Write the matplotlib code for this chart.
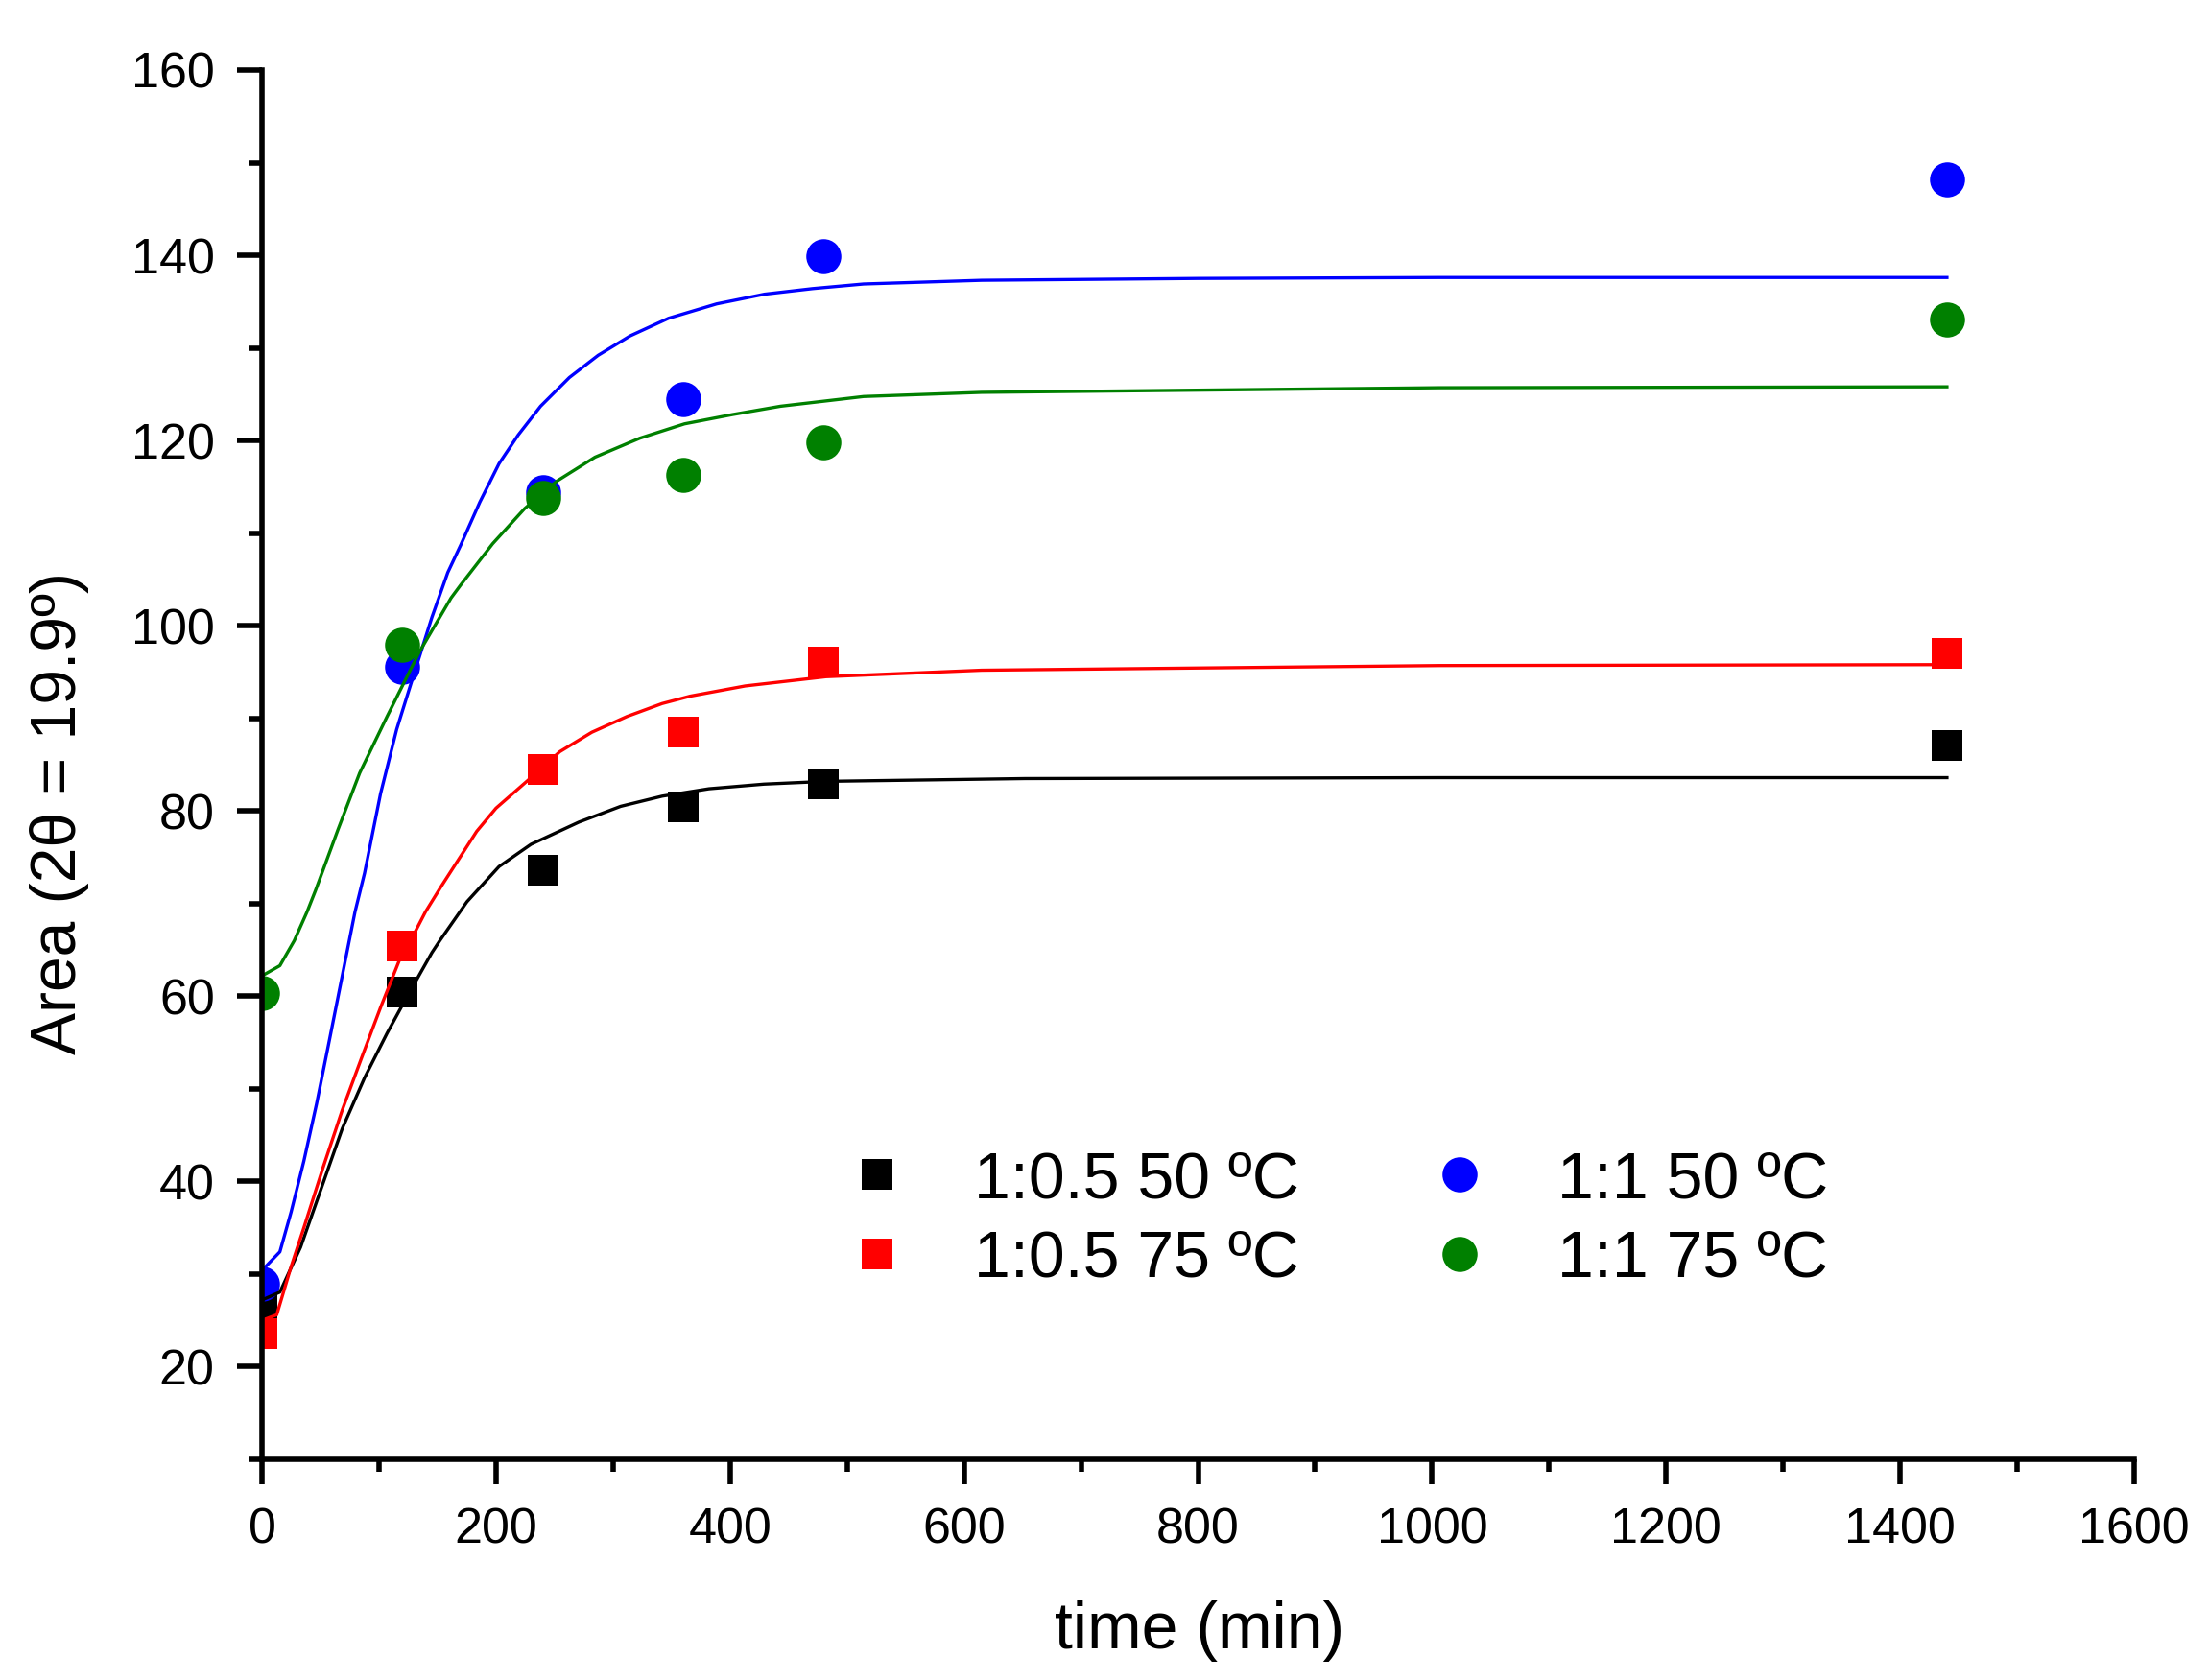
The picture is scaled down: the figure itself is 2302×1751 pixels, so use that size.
import matplotlib
matplotlib.use("Agg")
import matplotlib.pyplot as plt
from matplotlib.ticker import MultipleLocator

plt.rcParams['font.family'] = ['Liberation Sans', 'DejaVu Sans']

# ---- measured data ----
time_pts = [0, 120, 240, 360, 480, 1440]
black_pts = [26.5, 60.5, 73.6, 80.4, 82.9, 87.1]   # 1:0.5 50 ºC
red_pts = [23.6, 65.4, 84.5, 88.5, 96.1, 97.0]     # 1:0.5 75 ºC
blue_pts = [29.0, 95.6, 114.4, 124.5, 139.9, 148.2]  # 1:1 50 ºC
green_pts = [60.3, 97.9, 113.8, 116.3, 119.8, 133.1]  # 1:1 75 ºC

# ---- fitted curves ----
black_fit_t = [0, 15.3, 33, 52.2, 68.6, 87.7, 106.9, 123.3, 145.2, 152, 175.2, 202.6,
               229.9, 270.9, 306.5, 342, 382, 429, 482, 652, 1006, 1440]
black_fit_v = [27.2, 28.05, 32.9, 39.8, 45.7, 51.2, 56.0, 59.8, 64.7, 66.0, 70.2, 74.0,
               76.4, 78.8, 80.5, 81.6, 82.4, 82.9, 83.2, 83.5, 83.6, 83.6]

red_fit_t = [0, 12.6, 24.9, 35.8, 52.2, 68.6, 85, 101.4, 117.8, 131.5, 139.7, 153.4,
             183.5, 200, 227.2, 254.5, 281.9, 311.9, 342, 366, 413, 482, 615, 1006, 1440]
red_fit_v = [25.0, 25.6, 30.8, 35.0, 41.5, 47.7, 53.3, 58.8, 64.0, 67.1, 69.1, 71.9,
             77.8, 80.3, 83.3, 86.4, 88.5, 90.2, 91.6, 92.4, 93.5, 94.5, 95.2, 95.7, 95.8]

blue_fit_t = [0, 15.3, 24.9, 35.8, 46.7, 57.7, 68.6, 79.5, 87.7, 101.4, 115.1, 128.8,
              145.2, 158.8, 169.8, 186.2, 202.6, 219, 238.1, 262.7, 287.3, 314.7,
              347.5, 388.5, 429.5, 470.5, 514.2, 615, 800, 1006, 1440]
blue_fit_v = [30.4, 32.4, 36.7, 42.2, 48.4, 55.3, 62.2, 69.1, 73.3, 81.9, 88.8, 94.35,
              100.9, 105.75, 108.7, 113.35, 117.5, 120.6, 123.7, 126.8, 129.2, 131.3,
              133.2, 134.75, 135.8, 136.4, 136.9, 137.3, 137.5, 137.6, 137.6]

green_fit_t = [0, 15.3, 27.6, 38.5, 46, 65, 83.5, 106.9, 134.2, 161.6, 169.8, 197.1,
               224.5, 251.8, 284.6, 322.9, 361.1, 402.1, 443.1, 514.2, 615, 1006, 1440]
green_fit_v = [62.2, 63.3, 66.0, 69.1, 71.5, 78.0, 84.1, 90.2, 97.1, 103.0, 104.4, 108.85,
               112.65, 115.6, 118.2, 120.25, 121.8, 122.8, 123.7, 124.75, 125.2, 125.7, 125.8]

labels = ['1:0.5 50 ºC', '1:0.5 75 ºC', '1:1 50 ºC', '1:1 75 ºC']
colors = ['#000000', '#FF0000', '#0000FF', '#008000']
markers = ['s', 's', 'o', 'o']
xticks = [0, 200, 400, 600, 800, 1000, 1200, 1400, 1600]
yticks = [20, 40, 60, 80, 100, 120, 140, 160]

fig = plt.figure(figsize=(23.02, 17.51), dpi=100)
ax = fig.add_axes([273/2302, 1-1521/1751, (2224-273)/2302, (1521-73)/1751])

pts = [black_pts, red_pts, blue_pts, green_pts]
fits = [(black_fit_t, black_fit_v), (red_fit_t, red_fit_v),
        (blue_fit_t, blue_fit_v), (green_fit_t, green_fit_v)]

for v, lab, c, m in zip(pts, labels, colors, markers):
    ms = 23 if m == 's' else 26.3
    ax.plot(time_pts, v, ls='none', marker=m, ms=ms, mfc=c, mec=c, mew=0,
            label=lab, zorder=3)
for (ft, fv), c in zip(fits, colors):
    ax.plot(ft, fv, color=c, lw=2.4, zorder=4, solid_joinstyle='round')

ax.set_xlim(0, 1600)
ax.set_ylim(10, 160)
ax.set_xticks(xticks)
ax.set_yticks(yticks)
ax.xaxis.set_minor_locator(MultipleLocator(100))
ax.yaxis.set_minor_locator(MultipleLocator(10))

for s in ['top', 'right']:
    ax.spines[s].set_visible(False)
for s in ['left', 'bottom']:
    ax.spines[s].set_linewidth(4)
    ax.spines[s].set_zorder(5)

ax.tick_params(which='major', direction='out', length=18.5, width=4, pad=17,
               labelsize=37.5)
ax.tick_params(which='minor', direction='out', length=9.5, width=4)

fig.text(1249.7/2302, 1-1700/1751, 'time (min)', fontsize=49,
         ha='center', va='center')
fig.text(62.5/2302, 1-847.5/1751, 'Area (2θ = 19.9º)', fontsize=47.5,
         rotation=90, ha='center', va='center')

leg = ax.legend(ncol=2, loc='upper left',
                bbox_to_anchor=(879.5/2302, 1-1198/1751),
                bbox_transform=fig.transFigure, frameon=False,
                fontsize=49, handlelength=1.0, handletextpad=0.99,
                columnspacing=1.96, labelspacing=0.27, borderpad=0,
                borderaxespad=0, numpoints=1)

fig.savefig('out.png', dpi=100)
